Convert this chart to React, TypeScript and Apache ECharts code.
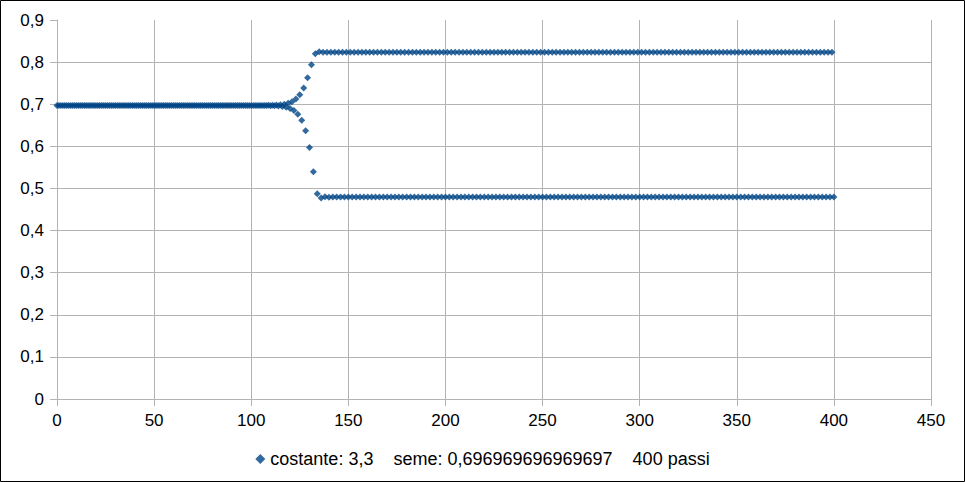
import React, { useEffect, useRef } from "react";
import * as echarts from "echarts";

// Legend text (series name)
const seriesName =
  "costante: 3,3\u00a0\u00a0\u00a0\u00a0seme: 0,696969696969697\u00a0\u00a0\u00a0\u00a0400 passi";

// Axis ranges / ticks
const xMin = 0;
const xMax = 450;
const xStep = 50;
const yMin = 0;
const yMax = 0.9;
const yStep = 0.1;

// Values for steps 0..400
const flatPart = [
  0.697, 0.697, 0.697, 0.697, 0.697, 0.697, 0.697, 0.697, 0.697, 0.697,
  0.697, 0.697, 0.697, 0.697, 0.697, 0.697, 0.697, 0.697, 0.697, 0.697,
  0.697, 0.697, 0.697, 0.697, 0.697, 0.697, 0.697, 0.697, 0.697, 0.697,
  0.697, 0.697, 0.697, 0.697, 0.697, 0.697, 0.697, 0.697, 0.697, 0.697,
  0.697, 0.697, 0.697, 0.697, 0.697, 0.697, 0.697, 0.697, 0.697, 0.697,
  0.697, 0.697, 0.697, 0.697, 0.697, 0.697, 0.697, 0.697, 0.697, 0.697,
  0.697, 0.697, 0.697, 0.697, 0.697, 0.697, 0.697, 0.697, 0.697, 0.697,
  0.697, 0.697, 0.697, 0.697, 0.697, 0.697, 0.697, 0.697, 0.697, 0.697,
  0.697, 0.697, 0.697, 0.697, 0.697, 0.697, 0.697, 0.697, 0.697, 0.697,
  0.697, 0.697, 0.697, 0.697, 0.697, 0.697, 0.697, 0.697, 0.697, 0.697,
  0.697, 0.697, 0.697, 0.697, 0.697, 0.697, 0.697, 0.697, 0.697,
];

// steps 109..140
const transitionPart = [
  0.6974, 0.6965, 0.6976, 0.6961, 0.6981, 0.6955, 0.6989, 0.6945, 0.7002, 0.6928,
  0.7024, 0.6898, 0.7061, 0.6849, 0.7122, 0.6764, 0.7224, 0.6618, 0.7386, 0.6372,
  0.7629, 0.597, 0.7939, 0.5399, 0.8198, 0.4876, 0.8245, 0.4775, 0.8233, 0.48,
  0.8237, 0.4793,
];

// steps 141..400
const cyclePart = [
  0.8236, 0.4794, 0.8236, 0.4794, 0.8236, 0.4794, 0.8236, 0.4794, 0.8236, 0.4794,
  0.8236, 0.4794, 0.8236, 0.4794, 0.8236, 0.4794, 0.8236, 0.4794, 0.8236, 0.4794,
  0.8236, 0.4794, 0.8236, 0.4794, 0.8236, 0.4794, 0.8236, 0.4794, 0.8236, 0.4794,
  0.8236, 0.4794, 0.8236, 0.4794, 0.8236, 0.4794, 0.8236, 0.4794, 0.8236, 0.4794,
  0.8236, 0.4794, 0.8236, 0.4794, 0.8236, 0.4794, 0.8236, 0.4794, 0.8236, 0.4794,
  0.8236, 0.4794, 0.8236, 0.4794, 0.8236, 0.4794, 0.8236, 0.4794, 0.8236, 0.4794,
  0.8236, 0.4794, 0.8236, 0.4794, 0.8236, 0.4794, 0.8236, 0.4794, 0.8236, 0.4794,
  0.8236, 0.4794, 0.8236, 0.4794, 0.8236, 0.4794, 0.8236, 0.4794, 0.8236, 0.4794,
  0.8236, 0.4794, 0.8236, 0.4794, 0.8236, 0.4794, 0.8236, 0.4794, 0.8236, 0.4794,
  0.8236, 0.4794, 0.8236, 0.4794, 0.8236, 0.4794, 0.8236, 0.4794, 0.8236, 0.4794,
  0.8236, 0.4794, 0.8236, 0.4794, 0.8236, 0.4794, 0.8236, 0.4794, 0.8236, 0.4794,
  0.8236, 0.4794, 0.8236, 0.4794, 0.8236, 0.4794, 0.8236, 0.4794, 0.8236, 0.4794,
  0.8236, 0.4794, 0.8236, 0.4794, 0.8236, 0.4794, 0.8236, 0.4794, 0.8236, 0.4794,
  0.8236, 0.4794, 0.8236, 0.4794, 0.8236, 0.4794, 0.8236, 0.4794, 0.8236, 0.4794,
  0.8236, 0.4794, 0.8236, 0.4794, 0.8236, 0.4794, 0.8236, 0.4794, 0.8236, 0.4794,
  0.8236, 0.4794, 0.8236, 0.4794, 0.8236, 0.4794, 0.8236, 0.4794, 0.8236, 0.4794,
  0.8236, 0.4794, 0.8236, 0.4794, 0.8236, 0.4794, 0.8236, 0.4794, 0.8236, 0.4794,
  0.8236, 0.4794, 0.8236, 0.4794, 0.8236, 0.4794, 0.8236, 0.4794, 0.8236, 0.4794,
  0.8236, 0.4794, 0.8236, 0.4794, 0.8236, 0.4794, 0.8236, 0.4794, 0.8236, 0.4794,
  0.8236, 0.4794, 0.8236, 0.4794, 0.8236, 0.4794, 0.8236, 0.4794, 0.8236, 0.4794,
  0.8236, 0.4794, 0.8236, 0.4794, 0.8236, 0.4794, 0.8236, 0.4794, 0.8236, 0.4794,
  0.8236, 0.4794, 0.8236, 0.4794, 0.8236, 0.4794, 0.8236, 0.4794, 0.8236, 0.4794,
  0.8236, 0.4794, 0.8236, 0.4794, 0.8236, 0.4794, 0.8236, 0.4794, 0.8236, 0.4794,
  0.8236, 0.4794, 0.8236, 0.4794, 0.8236, 0.4794, 0.8236, 0.4794, 0.8236, 0.4794,
  0.8236, 0.4794, 0.8236, 0.4794, 0.8236, 0.4794, 0.8236, 0.4794, 0.8236, 0.4794,
  0.8236, 0.4794, 0.8236, 0.4794, 0.8236, 0.4794, 0.8236, 0.4794, 0.8236, 0.4794,
];

const values = [...flatPart, ...transitionPart, ...cyclePart];

const gridColor = "#b3b3b3";
const markColor = "#004586";

export default function App() {
  const ref = useRef<HTMLDivElement>(null);

  useEffect(() => {
    document.body.style.margin = "0";
    const chart = echarts.init(ref.current!, null, { renderer: "svg" });
    const lineStyle = { color: gridColor, width: 1 };
    chart.setOption({
      animation: false,
      backgroundColor: "#ffffff",
      textStyle: { fontFamily: "Liberation Sans, Arial, sans-serif" },
      graphic: [
        {
          type: "rect",
          silent: true,
          shape: { x: 0.5, y: 0.5, width: 964, height: 481 },
          style: { fill: "none", stroke: "#000000", lineWidth: 1 },
        },
      ],
      grid: { left: 57, right: 34, top: 20, bottom: 83, containLabel: false },
      xAxis: {
        type: "value",
        min: xMin,
        max: xMax,
        interval: xStep,
        axisLine: { show: true, onZero: false, lineStyle },
        axisTick: { show: true, length: 7, lineStyle },
        axisLabel: { color: "#000", fontSize: 17, margin: 13 },
        splitLine: { show: true, lineStyle },
      },
      yAxis: {
        type: "value",
        min: yMin,
        max: yMax,
        interval: yStep,
        axisLine: { show: true, onZero: false, lineStyle },
        axisTick: { show: true, length: 7, lineStyle },
        axisLabel: {
          color: "#000",
          fontSize: 17,
          margin: 13,
          formatter: (v: number) => (v === 0 ? "0" : v.toFixed(1).replace(".", ",")),
        },
        splitLine: { show: true, showMaxLine: false, lineStyle },
      },
      legend: {
        show: true,
        left: "center",
        bottom: 9,
        icon: "diamond",
        itemWidth: 10,
        itemHeight: 10,
        itemGap: 10,
        textStyle: { fontSize: 18, color: "#000" },
        data: [seriesName],
      },
      series: [
        {
          type: "scatter",
          name: seriesName,
          symbol: "diamond",
          symbolSize: 7,
          itemStyle: { color: markColor },
          data: values.map((v, i) => [i, v]),
        },
      ],
    });
    return () => chart.dispose();
  }, []);

  return <div ref={ref} style={{ width: 965, height: 482 }} />;
}
